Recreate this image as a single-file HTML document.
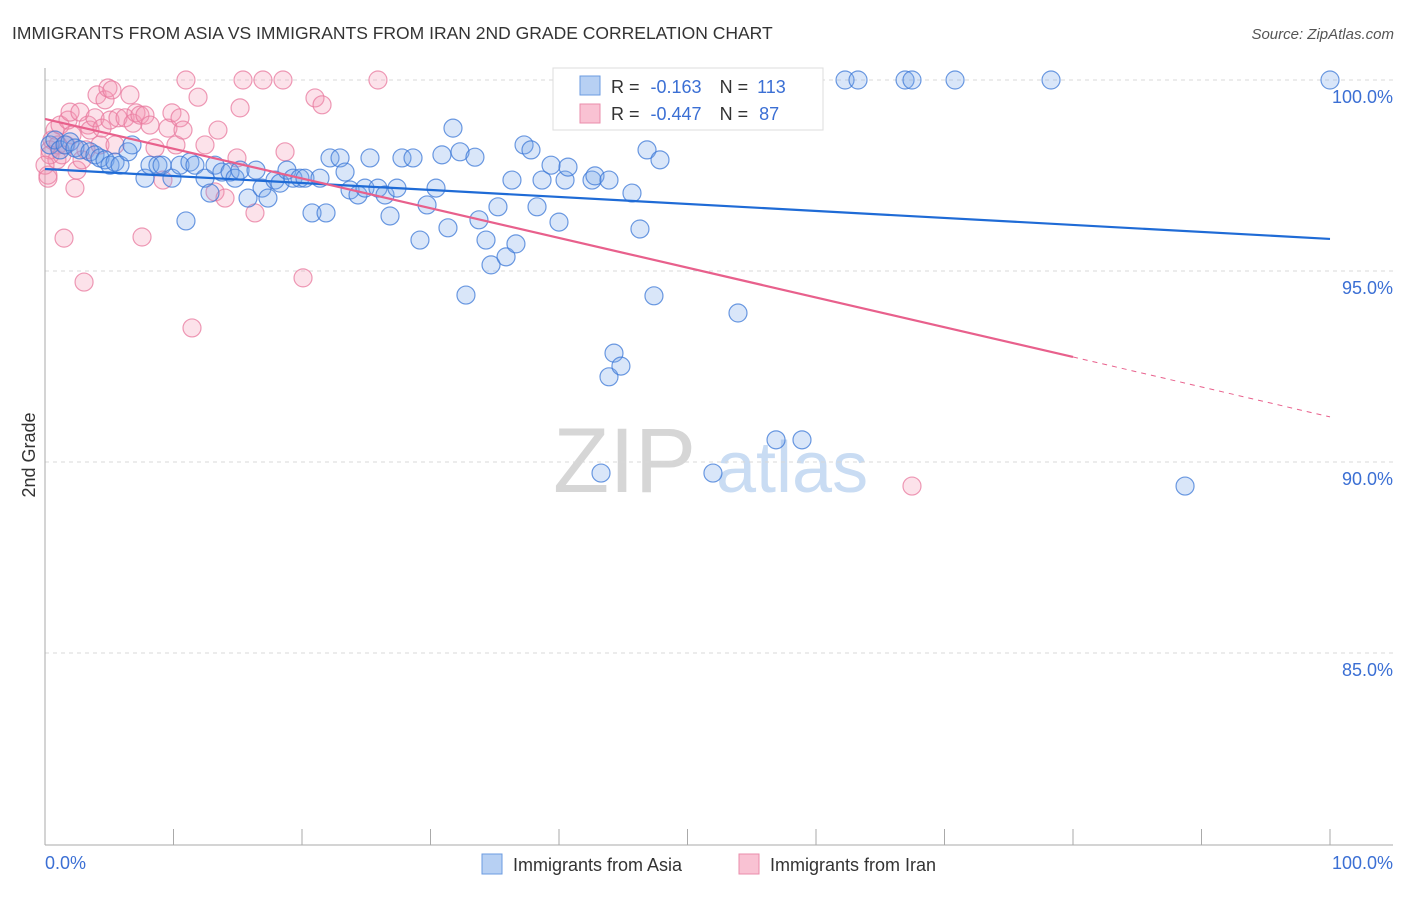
<!DOCTYPE html>
<html><head><meta charset="utf-8"><style>
body{margin:0;background:#fff;font-family:"Liberation Sans",sans-serif;}
svg text{font-family:"Liberation Sans",sans-serif;}
</style></head><body>
<svg id="chart" width="1406" height="892" viewBox="0 0 1406 892">
<text x="12" y="39" font-size="17.5" fill="#333">IMMIGRANTS FROM ASIA VS IMMIGRANTS FROM IRAN 2ND GRADE CORRELATION CHART</text>
<text x="1394" y="39" font-size="15" fill="#555" font-style="italic" text-anchor="end">Source: ZipAtlas.com</text>
<g>
<text x="553" y="492" font-size="92" fill="#d6d6d6" font-family="Liberation Serif">ZIP</text>
<text x="716" y="492" font-size="72" fill="#c9dcf3">atlas</text>
</g>
<g id="grid"></g>
<g id="axes"></g>
<g id="pts"></g>
<g id="lines"></g>
<text x="35" y="455" font-size="18" fill="#333" text-anchor="middle" transform="rotate(-90 35 455)">2nd Grade</text>
<text x="45" y="869" font-size="18" fill="#3b6fd4">0.0%</text>
<text x="1393" y="869" font-size="18" fill="#3b6fd4" text-anchor="end">100.0%</text>
<g>
<rect x="553" y="68" width="270" height="62" fill="#fff" stroke="#ddd"/>
<rect x="580" y="76" width="20" height="19" fill="#b7d0f3" stroke="#6b9be0"/>
<rect x="580" y="104" width="20" height="19" fill="#f9c2d3" stroke="#ea8cab"/>
<text x="611" y="93" font-size="18" fill="#333">R = <tspan fill="#3b6fd4" dx="6">-0.163</tspan><tspan dx="18" fill="#333">N = </tspan><tspan fill="#3b6fd4" dx="4">113</tspan></text>
<text x="611" y="120" font-size="18" fill="#333">R = <tspan fill="#3b6fd4" dx="6">-0.447</tspan><tspan dx="18" fill="#333">N = </tspan><tspan fill="#3b6fd4" dx="6">87</tspan></text>
</g>
<g>
<rect x="482" y="854" width="20" height="20" fill="#b7d0f3" stroke="#6b9be0"/>
<text x="513" y="871" font-size="18" fill="#333">Immigrants from Asia</text>
<rect x="739" y="854" width="20" height="20" fill="#f9c2d3" stroke="#ea8cab"/>
<text x="770" y="871" font-size="18" fill="#333">Immigrants from Iran</text>
</g>
</svg>
<script>
const yTicks=[100,95,90,85];
const yTickLabels=["100.0%","95.0%","90.0%","85.0%"];
const xTickVals=[0,10,20,30,40,50,60,70,80,90,100];
const asiaPx=[[50,145],[55,140],[60,150],[65,145],[70,142],[75,148],[80,150],[90,152],[95,155],[100,158],[105,160],[110,165],[115,162],[120,165],[128,152],[132,145],[145,178],[150,165],[158,165],[162,165],[172,178],[180,165],[186,221],[190,162],[195,165],[205,178],[210,193],[215,165],[222,172],[230,172],[235,178],[240,170],[248,198],[256,170],[262,188],[268,198],[275,180],[280,183],[287,170],[293,178],[300,178],[305,178],[312,213],[320,178],[326,213],[330,158],[340,158],[345,172],[350,190],[358,195],[365,188],[370,158],[378,188],[385,195],[390,216],[397,188],[402,158],[413,158],[420,240],[427,205],[436,188],[442,155],[448,228],[453,128],[460,152],[466,295],[475,157],[479,220],[486,240],[491,265],[498,207],[506,257],[512,180],[516,244],[524,145],[531,150],[537,207],[542,180],[551,165],[559,222],[565,180],[568,167],[592,180],[595,176],[601,473],[609,180],[614,353],[609,377],[621,366],[632,193],[640,229],[647,150],[654,296],[660,160],[665,80],[713,473],[728,80],[738,313],[776,440],[802,440],[845,80],[858,80],[905,80],[912,80],[955,80],[1051,80],[1185,486],[1330,80],[690,118]];
const iranPx=[[48,175],[50,150],[52,140],[55,130],[57,160],[60,125],[64,238],[66,145],[68,120],[70,112],[72,135],[75,188],[77,170],[80,112],[82,160],[84,282],[86,150],[88,125],[90,130],[95,118],[97,95],[100,145],[102,128],[105,100],[108,88],[110,120],[112,90],[115,145],[118,118],[125,118],[130,95],[133,123],[136,113],[140,115],[142,237],[145,115],[150,125],[155,148],[163,180],[168,128],[172,113],[176,145],[180,118],[183,130],[186,80],[192,328],[198,97],[205,145],[215,192],[218,130],[225,198],[237,158],[240,108],[243,80],[255,213],[263,80],[283,80],[285,152],[303,278],[315,98],[322,105],[378,80],[912,486],[50,155],[58,145],[62,155],[45,165],[48,178]];
// convert read pixel positions into data values (percent)
const asiaX=asiaPx.map(p=>+((p[0]-45)/12.85).toFixed(2));
const asiaY=asiaPx.map(p=>+(100-(p[1]-80)/38.2).toFixed(2));
const iranX=iranPx.map(p=>+((p[0]-45)/12.85).toFixed(2));
const iranY=iranPx.map(p=>+(100-(p[1]-80)/38.2).toFixed(2));
const asiaTrend=[[0,97.67],[100,95.84]];
const iranTrend=[[0,98.98],[80,92.75],[100,91.18]];

const NS="http://www.w3.org/2000/svg";
const sx=v=>45+v*12.85;
const sy=v=>80+(100-v)*38.2;
function mk(tag,attrs,parent){const e=document.createElementNS(NS,tag);for(const k in attrs)e.setAttribute(k,attrs[k]);parent.appendChild(e);return e;}
const grid=document.getElementById('grid'),axes=document.getElementById('axes'),pts=document.getElementById('pts'),lines=document.getElementById('lines');
yTicks.forEach((t,i)=>{
 const l=mk('line',{x1:45,x2:1393,y1:sy(t),y2:sy(t),stroke:'#d8d8d8','stroke-dasharray':'4 4'},grid);
 
 
 const tx=mk('text',{x:1393,y:sy(t)+23,'font-size':18,fill:'#3b6fd4','text-anchor':'end'},grid);
 tx.textContent=yTickLabels[i];
 
 
});
const ya=mk('line',{x1:45,x2:45,y1:68,y2:845,stroke:'#aaa'},axes);


const xa=mk('line',{x1:45,x2:1393,y1:845,y2:845,stroke:'#aaa'},axes);


xTickVals.forEach(v=>{
 const t=mk('line',{x1:sx(v),x2:sx(v),y1:829,y2:845,stroke:'#aaa'},axes);
 
 
});
function dots(xs,ys,fill,stroke,name){
 xs.forEach((x,i)=>{
  const c=mk('circle',{cx:sx(x),cy:sy(ys[i]),r:9,fill:fill,stroke:stroke,'stroke-width':1.2},pts);
  
  
 });
}
dots(iranX,iranY,'rgba(243,150,180,0.28)','rgba(232,120,157,0.75)','point-iran');
dots(asiaX,asiaY,'rgba(120,165,235,0.28)','rgba(60,120,215,0.75)','point-asia');
const bl=mk('line',{x1:sx(asiaTrend[0][0]),y1:sy(asiaTrend[0][1]),x2:sx(asiaTrend[1][0]),y2:sy(asiaTrend[1][1]),stroke:'#1f6bd6','stroke-width':2.2},lines);


const pl=mk('line',{x1:sx(iranTrend[0][0]),y1:sy(iranTrend[0][1]),x2:sx(iranTrend[1][0]),y2:sy(iranTrend[1][1]),stroke:'#e8608c','stroke-width':2.2},lines);


const pd=mk('line',{x1:sx(iranTrend[1][0]),y1:sy(iranTrend[1][1]),x2:sx(iranTrend[2][0]),y2:sy(iranTrend[2][1]),stroke:'#e8608c','stroke-width':1,'stroke-dasharray':'5 5'},lines);


</script>
</body></html>
